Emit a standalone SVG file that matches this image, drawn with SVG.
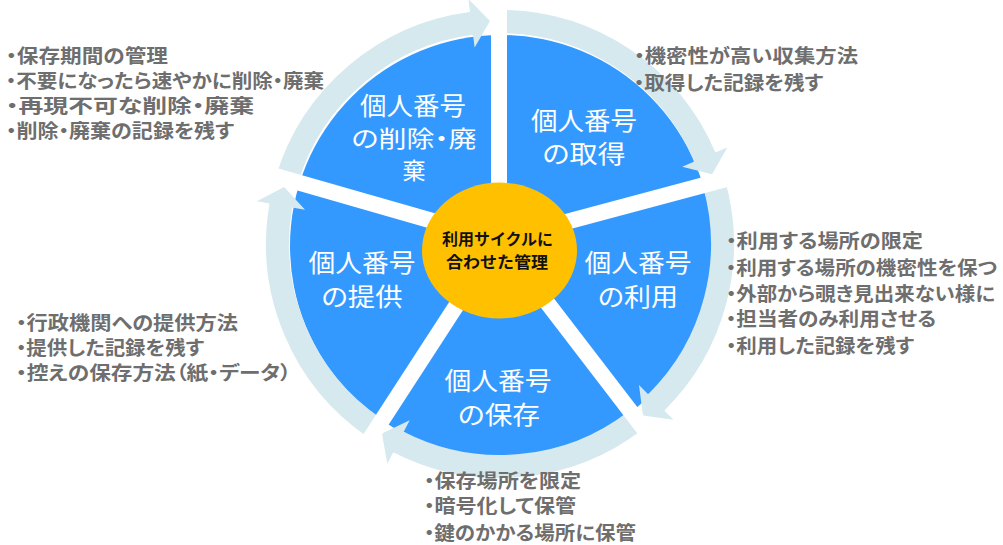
<svg xmlns="http://www.w3.org/2000/svg" width="1003" height="545" viewBox="0 0 1003 545">
<style>
.ring{fill:none;stroke:#d5e9ee;stroke-width:23;stroke-linecap:butt}
.gap{stroke:#ffffff;stroke-width:16;stroke-linecap:butt}
.lbl{font-family:"Noto Sans CJK JP","Noto Sans",sans-serif;font-size:25px;fill:#ffffff;text-anchor:middle;font-feature-settings:"palt" 1}
.sm{font-size:23px}
.ctr{font-family:"Noto Sans CJK JP","Noto Sans",sans-serif;font-size:16px;font-weight:bold;fill:#111111;text-anchor:middle}
.note{font-family:"Noto Sans CJK JP","Noto Sans",sans-serif;font-size:19px;font-weight:bold;fill:#6e6e6e;font-feature-settings:"palt" 1}
</style>
<defs>
<marker id="head" markerUnits="userSpaceOnUse" viewBox="-2 -25 22 50" markerWidth="22" markerHeight="50" refX="0" refY="0" orient="auto">
<path d="M-2,-11.5 L0,-11.5 L0,-24.5 L18.6,0 L0,24.5 L0,11.5 L-2,11.5 Z" fill="#d5e9ee"/>
</marker>
</defs>
<rect width="1003" height="545" fill="#ffffff"/>
<g id="wheel">
<circle cx="501" cy="246" r="211" fill="#3399ff"/>
</g>
<g id="connectors">
<path class="ring" marker-end="url(#head)" d="M498.1,21.5 A222.5,222.5 0 0 1 704.8,157.1"/>
<path class="ring" marker-end="url(#head)" d="M713.7,182.2 A222.5,222.5 0 0 1 656.2,402.4"/>
<path class="ring" marker-end="url(#head)" d="M636.1,420.0 A222.5,222.5 0 0 1 398.5,442.0"/>
<path class="ring" marker-end="url(#head)" d="M375.6,428.5 A222.5,222.5 0 0 1 280.9,205.4"/>
<path class="ring" marker-end="url(#head)" d="M287.0,179.5 A222.5,222.5 0 0 1 471.5,23.3"/>
</g>
<g id="gaps">
<line class="gap" x1="499" y1="240" x2="499" y2="-40"/>
<line class="gap" x1="499" y1="240" x2="769.5" y2="167.5"/>
<line class="gap" x1="499" y1="240" x2="669.5" y2="462.2"/>
<line class="gap" x1="499" y1="240" x2="346.5" y2="474.8"/>
<line class="gap" x1="499" y1="240" x2="229.8" y2="162.8"/>
</g>
<g id="node-acquire">
<text class="lbl" x="584" y="130" textLength="106" lengthAdjust="spacingAndGlyphs">個人番号</text>
<text class="lbl" x="584" y="163" textLength="83" lengthAdjust="spacingAndGlyphs">の取得</text>
</g>
<g id="node-use">
<text class="lbl" x="638" y="272" textLength="107" lengthAdjust="spacingAndGlyphs">個人番号</text>
<text class="lbl" x="638" y="306" textLength="80" lengthAdjust="spacingAndGlyphs">の利用</text>
</g>
<g id="node-store">
<text class="lbl" x="498" y="390" textLength="107" lengthAdjust="spacingAndGlyphs">個人番号</text>
<text class="lbl" x="499" y="424" textLength="82" lengthAdjust="spacingAndGlyphs">の保存</text>
</g>
<g id="node-provide">
<text class="lbl" x="362" y="272" textLength="107" lengthAdjust="spacingAndGlyphs">個人番号</text>
<text class="lbl" x="362" y="306" textLength="81" lengthAdjust="spacingAndGlyphs">の提供</text>
</g>
<g id="node-delete">
<text class="lbl" x="413" y="115" textLength="106" lengthAdjust="spacingAndGlyphs">個人番号</text>
<text class="lbl sm" x="414" y="147" textLength="125" lengthAdjust="spacingAndGlyphs">の削除・廃</text>
<text class="lbl sm" x="414" y="179">棄</text>
</g>
<g id="node-center">
<ellipse cx="499.5" cy="250.5" rx="77.5" ry="68" fill="#ffc000"/>
<text class="ctr" x="497.5" y="244.5" textLength="111" lengthAdjust="spacingAndGlyphs">利用サイクルに</text>
<text class="ctr" x="497" y="268" textLength="102" lengthAdjust="spacingAndGlyphs">合わせた管理</text>
</g>
<g id="notes-delete">
<text class="note" x="6" y="63" textLength="162" lengthAdjust="spacingAndGlyphs">・保存期間の管理</text>
<text class="note" x="6" y="88" textLength="318" lengthAdjust="spacingAndGlyphs">・不要になったら速やかに削除・廃棄</text>
<text class="note" x="6" y="113" textLength="248" lengthAdjust="spacingAndGlyphs">・再現不可な削除・廃棄</text>
<text class="note" x="6" y="138" textLength="228" lengthAdjust="spacingAndGlyphs">・削除・廃棄の記録を残す</text>
</g>
<g id="notes-acquire">
<text class="note" x="634" y="63" textLength="224" lengthAdjust="spacingAndGlyphs">・機密性が高い収集方法</text>
<text class="note" x="634" y="90" textLength="189" lengthAdjust="spacingAndGlyphs">・取得した記録を残す</text>
</g>
<g id="notes-use">
<text class="note" x="726" y="248" textLength="197" lengthAdjust="spacingAndGlyphs">・利用する場所の限定</text>
<text class="note" x="726" y="275" textLength="271" lengthAdjust="spacingAndGlyphs">・利用する場所の機密性を保つ</text>
<text class="note" x="726" y="301" textLength="269" lengthAdjust="spacingAndGlyphs">・外部から覗き見出来ない様に</text>
<text class="note" x="726" y="326" textLength="210" lengthAdjust="spacingAndGlyphs">・担当者のみ利用させる</text>
<text class="note" x="726" y="353" textLength="188" lengthAdjust="spacingAndGlyphs">・利用した記録を残す</text>
</g>
<g id="notes-provide">
<text class="note" x="16" y="330" textLength="222" lengthAdjust="spacingAndGlyphs">・行政機関への提供方法</text>
<text class="note" x="16" y="355" textLength="188" lengthAdjust="spacingAndGlyphs">・提供した記録を残す</text>
<text class="note" x="16" y="380" textLength="275" lengthAdjust="spacingAndGlyphs">・控えの保存方法（紙・データ）</text>
</g>
<g id="notes-store">
<text class="note" x="424" y="488" textLength="157" lengthAdjust="spacingAndGlyphs">・保存場所を限定</text>
<text class="note" x="424" y="513" textLength="152" lengthAdjust="spacingAndGlyphs">・暗号化して保管</text>
<text class="note" x="424" y="540" textLength="212" lengthAdjust="spacingAndGlyphs">・鍵のかかる場所に保管</text>
</g>
</svg>
